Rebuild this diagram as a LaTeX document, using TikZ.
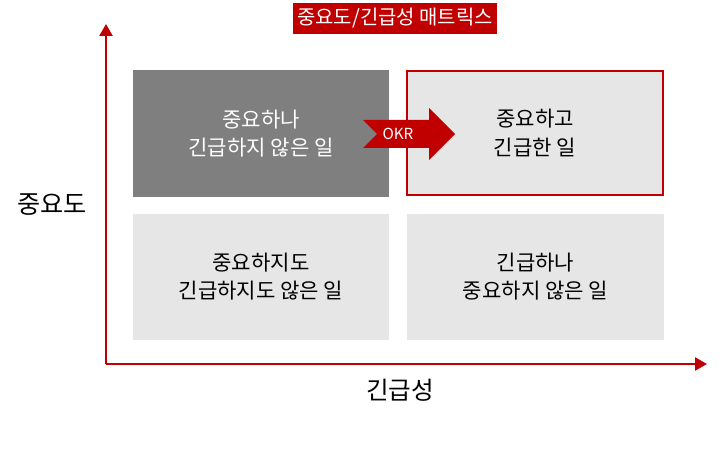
\documentclass[tikz,border=0pt]{standalone}
\usepackage{fontspec}
\setmainfont{Noto Sans CJK KR}
\usetikzlibrary{arrows.meta,calc,positioning}
\definecolor{matred}{HTML}{C00000}
\definecolor{quaddark}{HTML}{7F7F7F}
\definecolor{quadlight}{HTML}{E6E6E6}

\begin{document}
\begin{tikzpicture}[x=0.03cm,y=-0.03cm,>={Triangle[length=0.36cm,width=0.39cm]},
  quad/.style={minimum width=7.68cm,minimum height=3.8cm,inner sep=0pt,
    align=center,font=\fontsize{18}{24}\selectfont},
  axis/.style={matred,line width=0.07cm}]
  \useasboundingbox (0,0) rectangle (719,454);
  % title bar
  \node[fill=matred,text=white,minimum width=6.12cm,minimum height=0.93cm,
    inner sep=0pt,font=\fontsize{17}{17}\selectfont] (title) at (395,18.5)
    {중요도/긴급성 매트릭스};
  % quadrants
  \node[quad,fill=quaddark,text=white] (q1) at (261,133.5)
    {중요하나\\긴급하지 않은 일};
  \node[quad,fill=quadlight,draw=matred,line width=0.06cm,
    minimum width=7.68cm,minimum height=3.72cm] (q2) at (535,133)
    {중요하고\\긴급한 일};
  \node[quad,fill=quadlight] (q3) at (261,277)
    {중요하지도\\긴급하지도 않은 일};
  \node[quad,fill=quadlight] (q4) at (535.5,277)
    {긴급하나\\중요하지 않은 일};
  % axes
  \coordinate (origin) at (106,364);
  \coordinate (ytop) at (106,24);
  \coordinate (xend) at (707,364);
  \draw[axis,->] (origin) -- (ytop);
  \draw[axis,->] (origin) -- (xend);
  \node[font=\fontsize{21.5}{21.5}\selectfont] (ylab) at (52,205) {중요도};
  \node[font=\fontsize{21}{21}\selectfont] (xlab) at (400,390) {긴급성};
  % OKR arrow
  \fill[matred] (363,120) -- (429,120) -- (429,108) -- (455,134)
    -- (429,160) -- (429,148) -- (363,148) -- (377,134) -- cycle;
  \node[text=white,font=\fontsize{13}{13}\selectfont,inner sep=0pt] (okr)
    at (398,134) {OKR};
\end{tikzpicture}
\end{document}
